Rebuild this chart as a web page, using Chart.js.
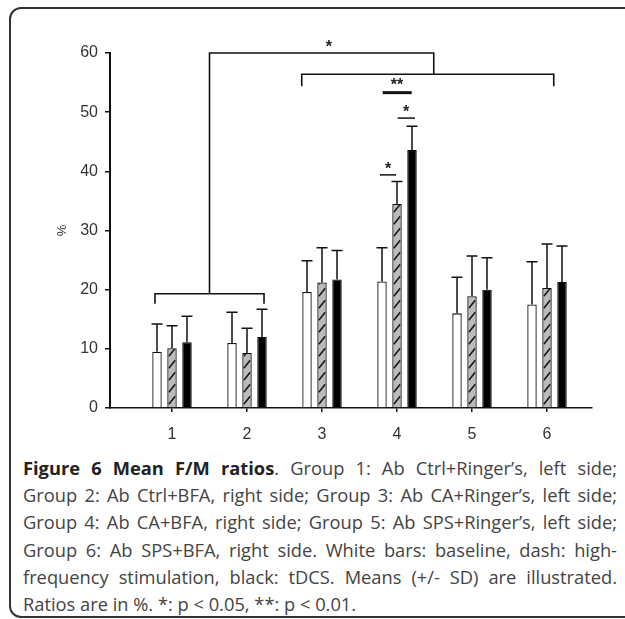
<!DOCTYPE html>
<html>
<head>
<meta charset="utf-8">
<script src="https://cdn.jsdelivr.net/npm/chart.js@4.4.0/dist/chart.umd.min.js"></script>
<style>
  html, body { margin: 0; padding: 0; background: #fff; overflow: hidden; }
  #frame { position: absolute; left: 9px; top: 7px; width: 700px; height: 607px;
           border: 2px solid #333; border-radius: 12px; }
  #canvas { position: absolute; left: 0; top: 0; }
  #cap { position: absolute; left: 23px; top: 454px; width: 594px;
         font-family: "Open Sans", sans-serif; font-size: 18.3px; line-height: 27.2px; color: #444; }
  #cap div { text-align: justify; text-align-last: justify; white-space: nowrap; }
  #cap div.last { text-align-last: left; }
  #cap b { color: #222; }
</style>
</head>
<body>
<div id="frame"></div>
<canvas id="canvas" width="625" height="454"></canvas>
<div id="cap">
  <div><b>Figure 6 Mean F/M ratios</b>. Group 1: Ab Ctrl+Ringer’s, left side;</div>
  <div>Group 2: Ab Ctrl+BFA, right side; Group 3: Ab CA+Ringer’s, left side;</div>
  <div>Group 4: Ab CA+BFA, right side; Group 5: Ab SPS+Ringer’s, left side;</div>
  <div>Group 6: Ab SPS+BFA, right side. White bars: baseline, dash: high-</div>
  <div>frequency stimulation, black: tDCS. Means (+/- SD) are illustrated.</div>
  <div class="last">Ratios are in %. *: p &lt; 0.05, **: p &lt; 0.01.</div>
</div>
<script>
// groups on the x axis
const groups = [1, 2, 3, 4, 5, 6];
const groupLabels = ["1", "2", "3", "4", "5", "6"];

// mean F/M ratio (%) and SD per condition
const baseline   = [9.5, 11.0, 19.6, 21.4, 16.0, 17.5];
const baselineSD = [4.7, 5.2, 5.3, 5.7, 6.1, 7.2];
const hfs        = [10.1, 9.3, 21.2, 34.5, 18.9, 20.3];
const hfsSD      = [3.8, 4.2, 5.9, 3.8, 6.8, 7.4];
const tdcs       = [11.1, 12.0, 21.7, 43.6, 20.0, 21.3];
const tdcsSD     = [4.4, 4.7, 4.9, 4.0, 5.4, 6.1];

const yTicks = [0, 10, 20, 30, 40, 50, 60];

// significance brackets, in axis units
const brackets = [
  [[0.773, 17.6], [0.773, 19.3], [2.227, 19.3], [2.227, 17.6]],
  [[1.5, 19.3], [1.5, 60], [4.49, 60], [4.49, 56.4]],
  [[2.73, 54.4], [2.73, 56.4], [6.09, 56.4], [6.09, 54.4]]
];
const sigLines = [
  { x1: 3.773, x2: 3.987, y: 39.4, w: 1.5 },
  { x1: 4.009, x2: 4.24, y: 49.0, w: 1.5 },
  { x1: 3.809, x2: 4.196, y: 53.3, w: 3 }
];
const stars = [
  { x: 3.09, y: 61.6, t: "*" },
  { x: 3.88, y: 41.0, t: "*" },
  { x: 4.12, y: 50.7, t: "*" },
  { x: 4.0, y: 55.1, t: "**" }
];

const means = [baseline, hfs, tdcs];
const sds = [baselineSD, hfsSD, tdcsSD];

Chart.defaults.font.family = "'Liberation Sans', Arial, sans-serif";
Chart.defaults.color = "#333";

const overlay = {
  id: "overlay",
  afterDatasetsDraw(chart) {
    const ctx = chart.ctx;
    const x = chart.scales.x, y = chart.scales.y;
    ctx.save();

    // dashed diagonal hatching on the HFS bars
    chart.getDatasetMeta(1).data.forEach(bar => {
      const l = bar.x - bar.width / 2, r = bar.x + bar.width / 2;
      ctx.save();
      ctx.beginPath();
      ctx.rect(l + 1, bar.y + 1, bar.width - 2, bar.base - bar.y - 1);
      ctx.clip();
      ctx.strokeStyle = "#111";
      ctx.lineWidth = 1.5;
      for (let yy = bar.base - 3; yy > bar.y - 12; yy -= 12) {
        ctx.beginPath();
        ctx.moveTo(l + 1.5, yy);
        ctx.lineTo(r - 1.5, yy - 8);
        ctx.stroke();
      }
      ctx.restore();
    });

    // upper error whiskers
    ctx.strokeStyle = "#111";
    ctx.lineWidth = 1.5;
    means.forEach((m, d) => {
      chart.getDatasetMeta(d).data.forEach((bar, i) => {
        const top = y.getPixelForValue(m[i] + sds[d][i]);
        ctx.beginPath();
        ctx.moveTo(bar.x, bar.y);
        ctx.lineTo(bar.x, top);
        ctx.moveTo(bar.x - 5.5, top);
        ctx.lineTo(bar.x + 5.5, top);
        ctx.stroke();
      });
    });

    // brackets
    ctx.lineWidth = 1.6;
    brackets.forEach(path => {
      ctx.beginPath();
      path.forEach((p, k) => {
        const px = x.getPixelForValue(p[0]), py = y.getPixelForValue(p[1]);
        if (k === 0) ctx.moveTo(px, py); else ctx.lineTo(px, py);
      });
      ctx.stroke();
    });
    sigLines.forEach(s => {
      ctx.lineWidth = s.w;
      ctx.beginPath();
      ctx.moveTo(x.getPixelForValue(s.x1), y.getPixelForValue(s.y));
      ctx.lineTo(x.getPixelForValue(s.x2), y.getPixelForValue(s.y));
      ctx.stroke();
    });

    ctx.fillStyle = "#222";
    ctx.font = "bold 16px 'Liberation Sans', Arial";
    ctx.textAlign = "center";
    ctx.textBaseline = "alphabetic";
    stars.forEach(s => {
      ctx.fillText(s.t, x.getPixelForValue(s.x), y.getPixelForValue(s.y) + 8.5);
    });
    ctx.restore();
  }
};

new Chart(document.getElementById("canvas"), {
  type: "bar",
  data: {
    datasets: [
      {
        label: "Baseline",
        data: groups.map((g, i) => ({ x: g, y: baseline[i] })),
        backgroundColor: "#fff",
        borderColor: "#111",
        borderWidth: 1.3
      },
      {
        label: "High-frequency stimulation",
        data: groups.map((g, i) => ({ x: g, y: hfs[i] })),
        backgroundColor: "#bbbbbb",
        borderColor: "#111",
        borderWidth: 1.3
      },
      {
        label: "tDCS",
        data: groups.map((g, i) => ({ x: g, y: tdcs[i] })),
        backgroundColor: "#000",
        borderColor: "#000",
        borderWidth: 1
      }
    ]
  },
  options: {
    responsive: false,
    animation: false,
    categoryPercentage: 0.6,
    barPercentage: 0.63,
    layout: { padding: { left: 0, right: 33, top: 53, bottom: 0 } },
    plugins: { legend: { display: false }, tooltip: { enabled: false } },
    scales: {
      x: {
        type: "linear",
        min: 0.1733,
        max: 6.6,
        offset: false,
        afterBuildTicks: s => { s.ticks = groups.map(v => ({ value: v })); },
        afterFit: s => { s.height = 46; },
        ticks: {
          callback: v => groupLabels[groups.indexOf(v)],
          font: { size: 16 },
          padding: 13
        },
        grid: { drawOnChartArea: false, offset: false, tickLength: 4, color: "#111", lineWidth: 1.5 },
        border: { color: "#111", width: 1.6 }
      },
      y: {
        min: 0,
        max: 60,
        afterBuildTicks: s => { s.ticks = yTicks.map(v => ({ value: v })); },
        afterFit: s => { s.width = 110; },
        ticks: { font: { size: 16 }, padding: 7 },
        title: { display: true, text: "%", font: { size: 13 }, padding: { top: 55, bottom: 0 } },
        grid: { drawOnChartArea: false, tickLength: 5, color: "#111", lineWidth: 1.5 },
        border: { color: "#111", width: 2 }
      }
    }
  },
  plugins: [overlay]
});
</script>
</body>
</html>
